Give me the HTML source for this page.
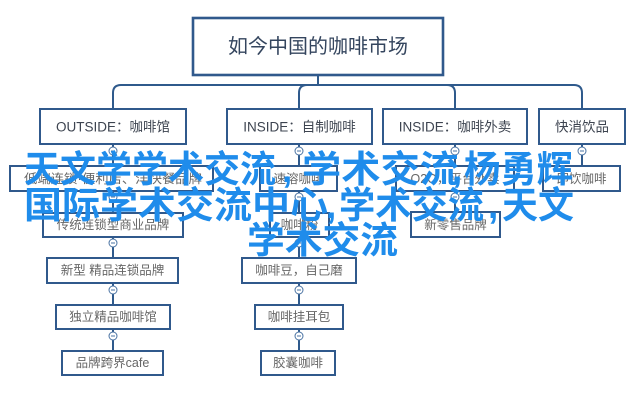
<!DOCTYPE html>
<html><head><meta charset="utf-8"><style>
html,body{margin:0;padding:0;background:#fff;width:640px;height:400px;overflow:hidden}
svg{display:block}
.t{font-family:"Liberation Sans","Noto Sans CJK SC",sans-serif}
</style></head><body>
<svg width="640" height="400" viewBox="0 0 640 400" xmlns="http://www.w3.org/2000/svg">
<rect width="640" height="400" fill="#fff"/>
<g fill="none" stroke="#2f5a8c" stroke-width="2">
  <path d="M318 75 V85"/>
  <path d="M113 109 V93 Q113 85 121 85 H574 Q582 85 582 93 V109"/>
  <path d="M299 109 V93 Q299 85 307 85"/>
  <path d="M447 85 Q455 85 455 93 V109"/>
  <path d="M113 144 V351"/>
  <path d="M299 144 V351"/>
  <path d="M455 144 V212"/>
  <path d="M582 144 V166"/>
</g>
<g fill="#fff" stroke="#30598c" stroke-width="2">
  <rect x="193" y="18" width="250" height="57" stroke-width="2.6"/>
  <rect x="40" y="109" width="146" height="35"/>
  <rect x="227" y="109" width="145" height="35"/>
  <rect x="383" y="109" width="144" height="35"/>
  <rect x="539" y="109" width="86" height="35"/>
  <rect x="10" y="166" width="203" height="25"/>
  <rect x="260" y="166" width="77" height="25"/>
  <rect x="396" y="166" width="118" height="25"/>
  <rect x="543" y="166" width="77" height="25"/>
  <rect x="43" y="213" width="140" height="24"/>
  <rect x="270" y="213" width="59" height="24"/>
  <rect x="411" y="212" width="89" height="25"/>
  <rect x="47" y="258" width="131" height="25"/>
  <rect x="242" y="258" width="114" height="25"/>
  <rect x="56" y="305" width="114" height="24"/>
  <rect x="255" y="305" width="88" height="24"/>
  <rect x="62" y="351" width="101" height="24"/>
  <rect x="261" y="351" width="74" height="24"/>
</g>
<g fill="#fff" stroke="#4a73a3" stroke-width="1">
  <circle cx="113" cy="151" r="4"/><circle cx="299" cy="151" r="4"/><circle cx="455" cy="151" r="4"/><circle cx="582" cy="151" r="4"/>
  <circle cx="113" cy="197" r="4"/><circle cx="299" cy="197" r="4"/><circle cx="455" cy="197" r="4"/>
  <circle cx="113" cy="243" r="4"/><circle cx="299" cy="243" r="4"/>
  <circle cx="113" cy="290" r="4"/><circle cx="299" cy="290" r="4"/>
  <circle cx="113" cy="336" r="4"/><circle cx="299" cy="336" r="4"/>
</g>
<g stroke="#4a73a3" stroke-width="1">
  <path d="M111 151h4M297 151h4M453 151h4M580 151h4M111 197h4M297 197h4M453 197h4M111 243h4M297 243h4M111 290h4M297 290h4M111 336h4M297 336h4"/>
</g>
<g class="t" text-anchor="middle" dominant-baseline="central">
  <text x="318" y="47" font-size="20" fill="#34455e">如今中国的咖啡市场</text>
  <g font-size="13.5" fill="#3d4450">
    <text x="113" y="127">OUTSIDE：咖啡馆</text>
    <text x="299.5" y="127">INSIDE：自制咖啡</text>
    <text x="455" y="127">INSIDE：咖啡外卖</text>
    <text x="582" y="127">快消饮品</text>
  </g>
  <g font-size="12.5" fill="#666">
    <text x="113" y="179" textLength="178" lengthAdjust="spacingAndGlyphs">低端连锁·便利店、洋快餐品牌</text>
    <text x="298.5" y="179">速溶咖啡</text>
    <text x="455" y="179">O2O，平台外卖</text>
    <text x="581.5" y="179">即饮咖啡</text>
    <text x="113" y="225">传统连锁型商业品牌</text>
    <text x="299.5" y="225">咖啡粉</text>
    <text x="455.5" y="225">新零售品牌</text>
    <text x="112.5" y="270.5">新型 精品连锁品牌</text>
    <text x="299" y="270.5">咖啡豆，自己磨</text>
    <text x="113" y="317">独立精品咖啡馆</text>
    <text x="299" y="317">咖啡挂耳包</text>
    <text x="112.5" y="363">品牌跨界cafe</text>
    <text x="298" y="363">胶囊咖啡</text>
  </g>
</g>
<g class="t" font-size="37" font-weight="700" fill="#1f8ceb">
  <text x="24" y="182" textLength="252" lengthAdjust="spacingAndGlyphs">天文学学术交流</text>
  <text x="282" y="182">,</text>
  <text x="302" y="182" textLength="157" lengthAdjust="spacingAndGlyphs">学术交流</text>
  <text x="452" y="182">,</text>
  <text x="464" y="182" textLength="109" lengthAdjust="spacingAndGlyphs">杨勇辉</text>
  <text x="24" y="218" textLength="304" lengthAdjust="spacingAndGlyphs">国际学术交流中心</text>
  <text x="326" y="218">,</text>
  <text x="339" y="218" textLength="145" lengthAdjust="spacingAndGlyphs">学术交流</text>
  <text x="488" y="218">,</text>
  <text x="502" y="218" textLength="72" lengthAdjust="spacingAndGlyphs">天文</text>
  <text x="247" y="253" textLength="151" lengthAdjust="spacingAndGlyphs">学术交流</text>
</g>
</svg>
</body></html>
